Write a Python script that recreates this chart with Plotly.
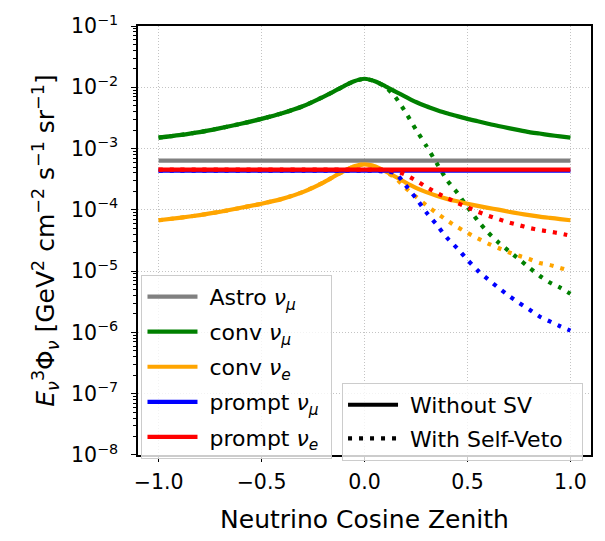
import plotly.graph_objects as go

# ---------------- data ----------------
COS = [-1.0, -0.9, -0.8, -0.7, -0.6, -0.5, -0.4, -0.3, -0.2, -0.15, -0.1, -0.05, 0.0,
       0.05, 0.1, 0.15, 0.2, 0.25, 0.3, 0.35, 0.4, 0.45, 0.5, 0.55, 0.6, 0.65, 0.7,
       0.75, 0.8, 0.85, 0.9, 0.95, 1.0]

FLAT_COS = [-1.0, 1.0]
ASTRO_NUMU = [6.35e-4, 6.35e-4]
PROMPT_NUMU = [4.36e-4, 4.36e-4]
PROMPT_NUE = [4.55e-4, 4.55e-4]

CONV_NUMU = [0.00151, 0.00166, 0.00186, 0.00216, 0.00254, 0.00305, 0.00376, 0.00490,
             0.00700, 0.00851, 0.01047, 0.01259, 0.01380,
             0.01259, 0.01047, 0.00851, 0.00700, 0.00575, 0.00490, 0.00427, 0.00376,
             0.00339, 0.00305, 0.00279, 0.00254, 0.00234, 0.00216, 0.00200, 0.00186,
             0.00176, 0.00166, 0.00158, 0.00151]
CONV_NUMU_SV = [0.00151, 0.00166, 0.00186, 0.00216, 0.00254, 0.00305, 0.00376, 0.00490,
                0.00700, 0.00851, 0.01047, 0.01259, 0.01380,
                0.01259, 0.01023, 0.00692, 0.00389, 0.00204, 0.00111, 5.82e-4, 3.09e-4,
                1.91e-4, 1.11e-4, 6.68e-5, 4.27e-5, 2.95e-5, 2.14e-5, 1.57e-5, 1.14e-5,
                8.41e-6, 6.53e-6, 5.37e-6, 4.27e-6]

CONV_NUE = [6.76e-5, 7.41e-5, 8.22e-5, 9.33e-5, 1.08e-4, 1.26e-4, 1.51e-4, 1.95e-4,
            2.79e-4, 3.47e-4, 4.27e-4, 5.13e-4, 5.53e-4,
            5.13e-4, 4.27e-4, 3.47e-4, 2.79e-4, 2.29e-4, 1.95e-4, 1.70e-4, 1.51e-4,
            1.38e-4, 1.26e-4, 1.16e-4, 1.08e-4, 1.01e-4, 9.33e-5, 8.71e-5, 8.22e-5,
            7.76e-5, 7.41e-5, 7.08e-5, 6.76e-5]
CONV_NUE_SV = [6.76e-5, 7.41e-5, 8.22e-5, 9.33e-5, 1.08e-4, 1.26e-4, 1.51e-4, 1.95e-4,
               2.79e-4, 3.47e-4, 4.27e-4, 5.13e-4, 5.53e-4,
               5.13e-4, 4.22e-4, 3.31e-4, 2.26e-4, 1.64e-4, 1.19e-4, 8.91e-5, 6.76e-5,
               5.25e-5, 4.22e-5, 3.43e-5, 2.82e-5, 2.39e-5, 2.04e-5, 1.78e-5, 1.58e-5,
               1.36e-5, 1.26e-5, 1.13e-5, 1.00e-5]

PROMPT_NUMU_SV = [4.36e-4, 4.36e-4, 4.36e-4, 4.36e-4, 4.36e-4, 4.36e-4, 4.36e-4, 4.36e-4,
                  4.36e-4, 4.36e-4, 4.36e-4, 4.36e-4, 4.36e-4,
                  4.36e-4, 4.22e-4, 3.98e-4, 2.51e-4, 1.55e-4, 9.12e-5, 5.75e-5, 3.51e-5,
                  2.37e-5, 1.53e-5, 1.02e-5, 7.33e-6, 5.37e-6, 3.98e-6, 3.05e-6, 2.37e-6,
                  1.82e-6, 1.51e-6, 1.26e-6, 1.07e-6]
PROMPT_NUE_SV = [4.55e-4, 4.55e-4, 4.55e-4, 4.55e-4, 4.55e-4, 4.55e-4, 4.55e-4, 4.55e-4,
                 4.55e-4, 4.55e-4, 4.55e-4, 4.55e-4, 4.55e-4,
                 4.55e-4, 4.52e-4, 4.32e-4, 3.72e-4, 3.01e-4, 2.37e-4, 1.91e-4, 1.57e-4,
                 1.30e-4, 1.10e-4, 9.33e-5, 8.04e-5, 7.08e-5, 6.24e-5, 5.62e-5, 5.07e-5,
                 4.68e-5, 4.42e-5, 4.12e-5, 3.80e-5]

X_TICKS = [-1.0, -0.5, 0.0, 0.5, 1.0]
X_TICKTEXT = ["−1.0", "−0.5", "0.0", "0.5", "1.0"]
Y_TICKS = [1e-8, 1e-7, 1e-6, 1e-5, 1e-4, 1e-3, 1e-2, 1e-1]
Y_TICKTEXT = ["10<sup>−8</sup>", "10<sup>−7</sup>", "10<sup>−6</sup>", "10<sup>−5</sup>",
              "10<sup>−4</sup>", "10<sup>−3</sup>", "10<sup>−2</sup>", "10<sup>−1</sup>"]

# ---------------- styling ----------------
FONT = "DejaVu Sans"
LW = 4.2
DOT = "4px,7px"
GREY, GREEN, ORANGE, BLUE, RED = "#808080", "#008000", "#FFA500", "#0000FF", "#FF0000"
SP = "\u00a0"

fig = go.Figure()

def solid(x, y, color, name):
    fig.add_trace(go.Scatter(x=x, y=y, mode="lines", name=SP + name + SP,
                             legend="legend", legendgroup=name,
                             line=dict(color=color, width=LW, shape="spline", smoothing=0.6)))

def dotted(x, y, color):
    fig.add_trace(go.Scatter(x=x, y=y, mode="lines", showlegend=False,
                             line=dict(color=color, width=LW, dash=DOT, shape="spline",
                                       smoothing=0.6)))

NUMU = "<i>ν</i><sub><i>μ</i></sub>"
NUE = "<i>ν</i><sub><i>e</i></sub>"

solid(FLAT_COS, ASTRO_NUMU, GREY, "Astro " + NUMU)
solid(COS, CONV_NUMU, GREEN, "conv " + NUMU)
dotted(COS, CONV_NUMU_SV, GREEN)
solid(COS, CONV_NUE, ORANGE, "conv " + NUE)
dotted(COS, CONV_NUE_SV, ORANGE)
solid(FLAT_COS, PROMPT_NUMU, BLUE, "prompt " + NUMU)
dotted(COS, PROMPT_NUMU_SV, BLUE)
solid(FLAT_COS, PROMPT_NUE, RED, "prompt " + NUE)
dotted(COS, PROMPT_NUE_SV, RED)

# style keys for second legend
fig.add_trace(go.Scatter(x=[None], y=[None], mode="lines", name=SP + "Without SV" + SP,
                         legend="legend2", legendgroup="wo",
                         line=dict(color="black", width=LW)))
fig.add_trace(go.Scatter(x=[None], y=[None], mode="lines",
                         name=SP + "With Self-Veto" + SP + SP,
                         legend="legend2", legendgroup="w",
                         line=dict(color="black", width=LW, dash=DOT)))

axis_common = dict(showline=True, linecolor="black", linewidth=1.5, mirror=True,
                   ticks="outside", ticklen=5, tickwidth=1.1, tickcolor="black",
                   showgrid=True, gridcolor="#c4c4c4", griddash="1px,2px", gridwidth=1,
                   zeroline=False, tickfont=dict(family=FONT, size=20.5, color="black"),
                   ticklabeloverflow="allow")

fig.update_xaxes(range=[-1.1, 1.1], tickvals=X_TICKS, ticktext=X_TICKTEXT,
                 ticklabelstandoff=3,
                 title=dict(text="Neutrino Cosine Zenith",
                            font=dict(family=FONT, size=25, color="black"), standoff=17),
                 **axis_common)

minor_vals = [m * 10.0 ** e for e in range(-8, -1) for m in range(2, 10)]
fig.update_yaxes(type="log", range=[-8.0005, -0.9995], tickvals=Y_TICKS, ticktext=Y_TICKTEXT,
                 ticklabelstandoff=9,
                 minor=dict(tickvals=minor_vals, ticks="outside", ticklen=2.8,
                            tickwidth=0.9, tickcolor="black", showgrid=False),
                 title=dict(text="<i>E</i><sub><i>ν</i></sub><sup>3</sup>Φ<sub><i>ν</i></sub>"
                                 " [GeV<sup>2</sup> cm<sup>−2</sup> s<sup>−1</sup> sr<sup>−1</sup>]",
                            font=dict(family=FONT, size=25, color="black"), standoff=9),
                 **axis_common)

legend_common = dict(bgcolor="rgba(255,255,255,0.8)", bordercolor="#cccccc",
                     borderwidth=1, font=dict(family=FONT, size=22, color="black"),
                     xanchor="left", yanchor="top", itemwidth=50)

fig.update_layout(
    width=605, height=541,
    margin=dict(l=137.5, r=13.5, t=13.5, b=76.5),
    plot_bgcolor="white", paper_bgcolor="white",
    font=dict(family=FONT, color="black"),
    legend=dict(x=0.0077, y=0.4202, tracegroupgap=3.5, **legend_common),
    legend2=dict(x=0.4504, y=0.168, tracegroupgap=2, **legend_common),
)

fig.write_html("out.html")
